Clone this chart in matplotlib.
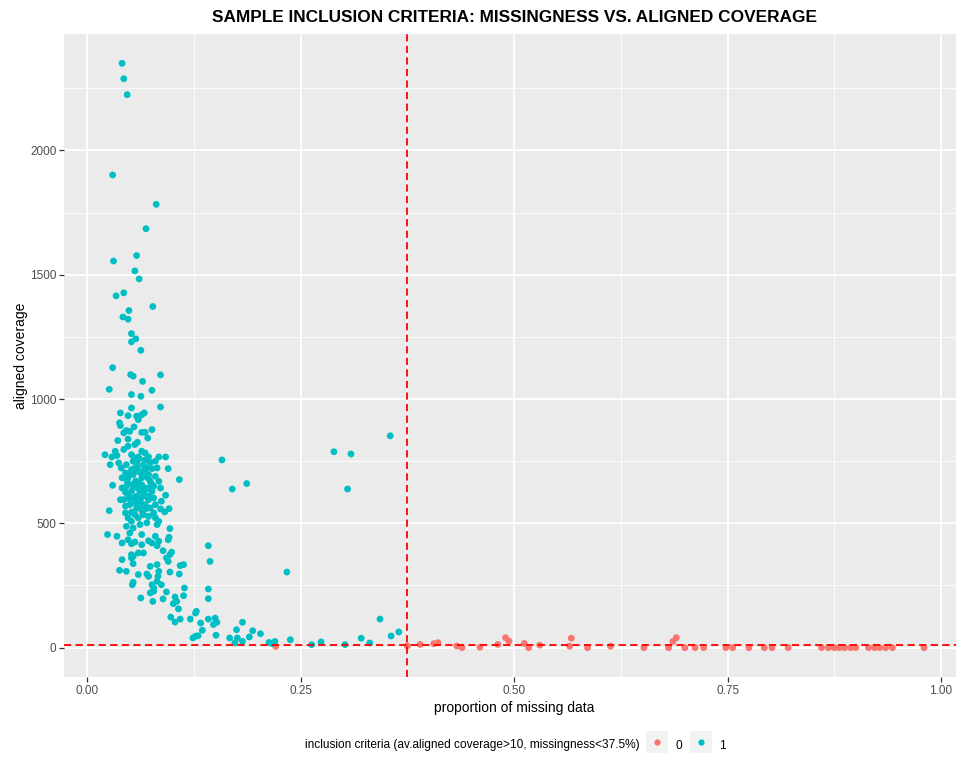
import matplotlib

matplotlib.use("Agg")

import matplotlib.pyplot as plt
import numpy as np
from matplotlib.legend_handler import HandlerTuple
from matplotlib.lines import Line2D

plt.rcParams["font.family"] = ["Liberation Sans", "DejaVu Sans"]

PANEL_BG = "#EBEBEB"
KEY_BG = "#F2F2F2"
GROUP_COLORS = {0: "#F8766D", 1: "#00BFC4"}
MISS_CUTOFF = 0.375
COV_CUTOFF = 10

# high-coverage tail
tail_miss = [0.041, 0.043, 0.047, 0.030, 0.081, 0.069, 0.058, 0.031, 0.056, 0.061, 0.043,
             0.034, 0.077, 0.049, 0.042, 0.048, 0.052, 0.057, 0.052, 0.063, 0.030]
tail_cov = [2350, 2288, 2224, 1901, 1783, 1685, 1577, 1555, 1515, 1483, 1427,
            1415, 1372, 1356, 1330, 1321, 1263, 1242, 1230, 1196, 1126]

# main body, 750-1100x coverage
upper_miss = [0.051, 0.054, 0.065, 0.086, 0.026, 0.052, 0.063, 0.076, 0.086, 0.052, 0.039,
              0.048, 0.058, 0.067, 0.064, 0.060, 0.038, 0.039, 0.046, 0.043, 0.050, 0.055,
              0.064, 0.068, 0.076, 0.071, 0.048, 0.036, 0.059, 0.056, 0.048, 0.043, 0.033,
              0.021, 0.029, 0.035, 0.052, 0.064, 0.068, 0.072, 0.084, 0.092, 0.060, 0.056]
upper_cov = [1098, 1092, 1071, 1097, 1039, 1018, 1011, 1035, 968, 964, 944,
             933, 931, 944, 937, 917, 904, 893, 873, 864, 870, 888,
             866, 866, 877, 843, 839, 833, 826, 817, 810, 797, 790,
             776, 767, 773, 776, 790, 783, 767, 767, 767, 767, 763]

# dense core, 420-750x coverage
core_miss = [0.027, 0.030, 0.026, 0.024, 0.035, 0.041, 0.108, 0.095, 0.092, 0.086, 0.096,
             0.091, 0.097, 0.096, 0.084, 0.082, 0.064, 0.072, 0.080, 0.076, 0.056, 0.048,
             0.046, 0.052, 0.060, 0.066, 0.072, 0.078, 0.056, 0.048, 0.045, 0.043, 0.039,
             0.041, 0.041, 0.045, 0.040, 0.037, 0.046, 0.080, 0.082, 0.080, 0.078, 0.076,
             0.072, 0.068, 0.064, 0.058, 0.054, 0.052, 0.056, 0.060, 0.064, 0.068, 0.070,
             0.066, 0.058, 0.052, 0.048, 0.046, 0.048, 0.054, 0.062, 0.068, 0.074, 0.072,
             0.060, 0.050, 0.045, 0.058, 0.066, 0.078, 0.080, 0.074, 0.080, 0.070, 0.062,
             0.054, 0.050, 0.087, 0.086, 0.084,
             0.055, 0.062, 0.069, 0.057, 0.064, 0.071, 0.053, 0.060, 0.067, 0.056, 0.063,
             0.070, 0.058, 0.065, 0.052, 0.073, 0.076, 0.074, 0.050, 0.047, 0.045, 0.049,
             0.061, 0.068, 0.054, 0.059, 0.066, 0.072, 0.075, 0.063]
core_cov = [736, 653, 551, 455, 448, 421, 676, 720, 613, 558, 559,
            546, 479, 444, 508, 495, 455, 430, 448, 421, 425, 434,
            488, 508, 522, 535, 528, 542, 535, 522, 542, 595, 595,
            642, 683, 703, 723, 743, 736, 750, 723, 689, 649, 629,
            595, 575, 555, 575, 602, 629, 649, 662, 683, 703, 723,
            736, 743, 716, 683, 649, 616, 696, 629, 642, 669, 696,
            709, 575, 569, 609, 609, 602, 575, 562, 522, 502, 495,
            481, 461, 589, 642, 669,
            720, 705, 690, 670, 655, 640, 655, 640, 620, 590, 580,
            560, 560, 545, 545, 610, 720, 745, 700, 670, 625, 600,
            760, 755, 750, 725, 710, 680, 660, 600]

# lower body, 110-440x coverage
lower_miss = [0.052, 0.064, 0.082, 0.084, 0.095, 0.142, 0.060, 0.052, 0.054, 0.052, 0.066,
              0.089, 0.099, 0.097, 0.093, 0.095, 0.041, 0.054, 0.144, 0.074, 0.082, 0.109,
              0.113, 0.038, 0.046, 0.060, 0.070, 0.072, 0.084, 0.083, 0.082, 0.097, 0.108,
              0.087, 0.076, 0.054, 0.053, 0.078, 0.078, 0.074, 0.093, 0.114, 0.142, 0.063,
              0.077, 0.089, 0.103, 0.113, 0.105, 0.101, 0.142, 0.107, 0.128, 0.127, 0.098,
              0.109, 0.121, 0.142, 0.150]
lower_cov = [418, 414, 410, 428, 434, 410, 381, 374, 367, 361, 381,
             390, 384, 374, 361, 347, 354, 338, 347, 327, 334, 330,
             334, 311, 307, 294, 296, 287, 307, 287, 267, 304, 296,
             253, 253, 263, 253, 240, 227, 220, 224, 240, 236, 200,
             186, 196, 204, 209, 186, 177, 197, 156, 146, 139, 123,
             115, 115, 115, 119]

# scattered samples away from the main body
stray_miss = [0.158, 0.170, 0.187, 0.289, 0.309, 0.305, 0.355, 0.234, 0.343,
              0.103, 0.133, 0.152, 0.148, 0.135, 0.124, 0.127, 0.130, 0.151, 0.167,
              0.173, 0.175, 0.176, 0.182, 0.182, 0.190, 0.194, 0.203, 0.213, 0.217,
              0.220, 0.238, 0.263, 0.274, 0.302, 0.321, 0.331, 0.356, 0.365]
stray_cov = [755, 638, 660, 788, 779, 638, 852, 304, 115,
             103, 99, 102, 93, 70, 39, 46, 48, 50, 39,
             19, 72, 39, 25, 102, 43, 68, 56, 21, 16,
             25, 32, 12, 23, 12, 38, 19, 47, 63]

# low-coverage / high-missingness samples
fail_miss = [0.221, 0.375, 0.390, 0.406, 0.411, 0.433, 0.439, 0.460, 0.481, 0.490, 0.494,
             0.512, 0.517, 0.530, 0.565, 0.567, 0.586, 0.613, 0.652, 0.681, 0.686, 0.690,
             0.700, 0.712, 0.722, 0.748, 0.756, 0.775, 0.793, 0.802, 0.821, 0.860, 0.868,
             0.875, 0.881, 0.887, 0.894, 0.900, 0.915, 0.922, 0.928, 0.935, 0.943, 0.980]
fail_cov = [5, 7, 13, 16, 20, 7, 0, 2, 13, 40, 26,
            17, 0, 10, 6, 38, 0, 6, 0, 0, 25, 40,
            0, 0, 0, 0, 0, 0, 0, 0, 0, 0, 0,
            0, 0, 0, 0, 0, 0, 0, 0, 0, 0, 0]

missing = np.array(tail_miss + upper_miss + core_miss + lower_miss + stray_miss + fail_miss)
coverage = np.array(tail_cov + upper_cov + core_cov + lower_cov + stray_cov + fail_cov, dtype=float)
included = ((coverage > COV_CUTOFF) & (missing < MISS_CUTOFF)).astype(int)

W, H = 956, 758
fig = plt.figure(figsize=(W / 100, H / 100), dpi=100)
ax = fig.add_axes([64 / W, 1 - 677 / H, (965 - 64) / W, (677 - 34) / H])
ax.set_facecolor(PANEL_BG)

for flag in (0, 1):
    sel = included == flag
    ax.scatter(missing[sel], coverage[sel], s=24, color=GROUP_COLORS[flag], edgecolors="none", zorder=3)

dash = (0, (4, 2.4))
ax.axvline(MISS_CUTOFF, color="#FF0000", linestyle=dash, linewidth=1.3, zorder=4)
ax.axhline(COV_CUTOFF, color="#FF0000", linestyle=dash, linewidth=1.3, zorder=4)

ax.set_xlim(-0.027, 1.028)
ax.set_ylim(-118, 2468)
ax.set_xticks([0, 0.25, 0.5, 0.75, 1.0], ["0.00", "0.25", "0.50", "0.75", "1.00"])
ax.set_xticks([0.125, 0.375, 0.625, 0.875], minor=True)
ax.set_yticks([0, 500, 1000, 1500, 2000])
ax.set_yticks([250, 750, 1250, 1750, 2250], minor=True)
ax.grid(which="major", color="white", linewidth=1.3)
ax.grid(which="minor", color="white", linewidth=0.6)
ax.set_axisbelow(True)
for spine in ax.spines.values():
    spine.set_visible(False)
ax.tick_params(which="major", length=3.5, width=0.9, color="#333333",
               labelcolor="#4D4D4D", labelsize=8.5, pad=2)
ax.tick_params(which="minor", length=0)

ax.set_xlabel("proportion of missing data", fontsize=10, labelpad=3)
ax.set_ylabel("aligned coverage", fontsize=10, labelpad=1)

fig.text(514 / W, 1 - 17 / H, "SAMPLE INCLUSION CRITERIA: MISSINGNESS VS. ALIGNED COVERAGE",
         ha="center", va="center", fontsize=12.4, fontweight="bold")

leg_y = 1 - 745 / H
fig.text(640 / W, leg_y, "inclusion criteria (av.aligned coverage>10, missingness<37.5%)",
         ha="right", va="center", fontsize=8.6)
# legend keys: grey square background with the group's dot on top
handles = [
    (Line2D([], [], marker="s", linestyle="", markersize=16.5, color=KEY_BG, markeredgewidth=0),
     Line2D([], [], marker="o", linestyle="", markersize=4.5, color=GROUP_COLORS[k], markeredgewidth=0))
    for k in (0, 1)
]
fig.legend(handles, ["0", "1"], loc="center left", bbox_to_anchor=(646 / W, leg_y),
           ncol=2, frameon=False, fontsize=8.6, borderpad=0, borderaxespad=0,
           handlelength=1.9, handleheight=1.9, handletextpad=0.6, columnspacing=0.6,
           handler_map={tuple: HandlerTuple(ndivide=1, pad=0)})

fig.savefig("out.png", dpi=100)
